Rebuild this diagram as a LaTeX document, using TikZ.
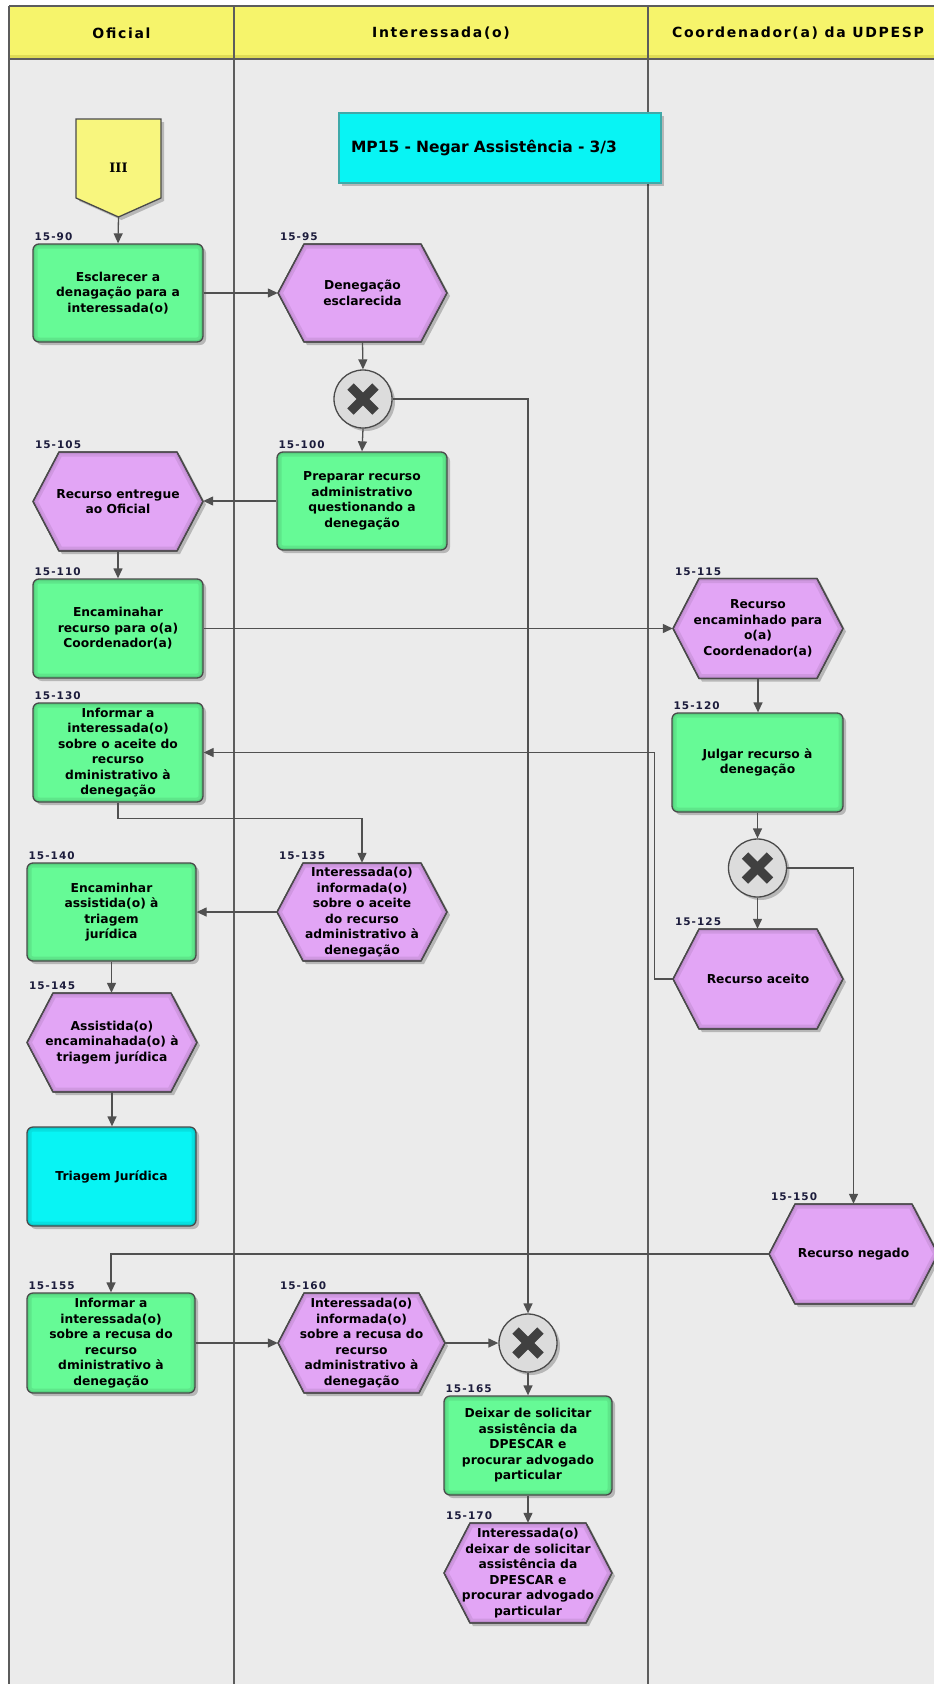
\documentclass[tikz,border=0pt]{standalone}
\usepackage{fontspec}
\setmainfont{DejaVu Sans}
\newfontfamily\labfont{DejaVu Sans}[LetterSpace=10]
\newfontfamily\headfont{DejaVu Sans}[LetterSpace=12]
\newfontfamily\romnum{DejaVu Serif}
\usetikzlibrary{arrows.meta,shadows}

\definecolor{laneGrey}{HTML}{EBEBEB}
\definecolor{headYellow}{HTML}{F6F46B}
\definecolor{headEdge}{HTML}{DEDB55}
\definecolor{actGreen}{HTML}{66FA96}
\definecolor{evViolet}{HTML}{E2A5F5}
\definecolor{refCyan}{HTML}{08F4F4}
\definecolor{offYellow}{HTML}{F8F67E}
\definecolor{edgeGrey}{HTML}{4A4A4A}
\definecolor{wireGrey}{HTML}{505050}
\definecolor{gwFill}{HTML}{DCDCDC}
\definecolor{gwMark}{HTML}{404040}
\definecolor{idInk}{HTML}{1C1C3C}
\definecolor{tealEdge}{HTML}{3FA9A9}

\tikzset{
  shapeshadow/.style={drop shadow={shadow xshift=3pt, shadow yshift=-3pt, fill=black, opacity=0.22}},
  laneLine/.style={draw=edgeGrey!90, line width=1.2pt},
  lanehead/.style={font=\headfont\bfseries\fontsize{14}{16}\selectfont, text=black},
  bodytext/.style={align=center, font=\bfseries\fontsize{12.3}{15.5}\selectfont, text=black, inner sep=1pt},
  actbox/.style={bodytext, rectangle, rounded corners=6pt, fill=actGreen, draw=edgeGrey,
    line width=1.3pt, shapeshadow,
    path picture={
      \draw[black, opacity=0.08, line width=9pt, rounded corners=6pt]
        (path picture bounding box.south west) rectangle (path picture bounding box.north east);
      \draw[black, opacity=0.08, line width=4pt, rounded corners=6pt]
        (path picture bounding box.south west) rectangle (path picture bounding box.north east);}},
  refbox/.style={actbox, fill=refCyan},
  evshape/.style={fill=evViolet, draw=edgeGrey, line width=1.3pt, line join=miter, shapeshadow},
  evrim/.style={draw=black, opacity=0.08, line width=#1},
  evtext/.style={bodytext, rectangle},
  idlab/.style={font=\labfont\bfseries\fontsize{10.5}{12}\selectfont, text=idInk, inner sep=0pt, anchor=base west, xshift=2pt, yshift=3pt},
  gateway/.style={circle, minimum size=58pt, inner sep=0pt, fill=gwFill, draw=edgeGrey, line width=1.3pt, shapeshadow,
    path picture={
      \draw[gwMark, line width=9pt]
        ([xshift=-12.5pt,yshift=-12.5pt]path picture bounding box.center) --
        ([xshift=12.5pt,yshift=12.5pt]path picture bounding box.center);
      \draw[gwMark, line width=9pt]
        ([xshift=-12.5pt,yshift=12.5pt]path picture bounding box.center) --
        ([xshift=12.5pt,yshift=-12.5pt]path picture bounding box.center);}},
  flow/.style={draw=wireGrey, line width=1.3pt, -{Triangle[length=10pt,width=9pt]}},
}

% hexagonal event: name, centre x, centre y, width, height, text
\def\hexin{26}
\newcommand\evnode[6]{%
  \path[evshape] ({#2-#4/2},#3) -- ({#2-#4/2+\hexin},{#3-#5/2}) -- ({#2+#4/2-\hexin},{#3-#5/2})
    -- ({#2+#4/2},#3) -- ({#2+#4/2-\hexin},{#3+#5/2}) -- ({#2-#4/2+\hexin},{#3+#5/2}) -- cycle;
  \begin{scope}
    \clip ({#2-#4/2},#3) -- ({#2-#4/2+\hexin},{#3-#5/2}) -- ({#2+#4/2-\hexin},{#3-#5/2})
      -- ({#2+#4/2},#3) -- ({#2+#4/2-\hexin},{#3+#5/2}) -- ({#2-#4/2+\hexin},{#3+#5/2}) -- cycle;
    \draw[evrim=9pt] ({#2-#4/2},#3) -- ({#2-#4/2+\hexin},{#3-#5/2}) -- ({#2+#4/2-\hexin},{#3-#5/2})
      -- ({#2+#4/2},#3) -- ({#2+#4/2-\hexin},{#3+#5/2}) -- ({#2-#4/2+\hexin},{#3+#5/2}) -- cycle;
    \draw[evrim=4pt] ({#2-#4/2},#3) -- ({#2-#4/2+\hexin},{#3-#5/2}) -- ({#2+#4/2-\hexin},{#3-#5/2})
      -- ({#2+#4/2},#3) -- ({#2+#4/2-\hexin},{#3+#5/2}) -- ({#2-#4/2+\hexin},{#3+#5/2}) -- cycle;
  \end{scope}
  \draw[draw=edgeGrey, line width=1.3pt] ({#2-#4/2},#3) -- ({#2-#4/2+\hexin},{#3-#5/2}) -- ({#2+#4/2-\hexin},{#3-#5/2})
    -- ({#2+#4/2},#3) -- ({#2+#4/2-\hexin},{#3+#5/2}) -- ({#2-#4/2+\hexin},{#3+#5/2}) -- cycle;
  \node[evtext, minimum width=#4pt, minimum height=#5pt] (#1) at (#2,#3) {#6};}

% rounded activity box: name, centre x, centre y, width, height, text
\newcommand\actnode[6]{%
  \node[actbox, minimum width=#4pt, minimum height=#5pt] (#1) at (#2,#3) {#6};}

\begin{document}
\begin{tikzpicture}[x=1pt,y=-1pt]
\useasboundingbox (0,0) rectangle (934,1684);
\clip (0,0) rectangle (934,1684);

% swimlanes
\fill[white] (0,0) rectangle (934,1684);
\fill[laneGrey] (9,59) rectangle (934,1684);
\fill[headYellow] (9,6) rectangle (934,59);
\fill[headEdge] (9,55) rectangle (934,59);
\draw[laneLine] (9,6) -- (934,6);
\draw[laneLine] (9,59) -- (934,59);
\draw[laneLine] (9,6) -- (9,1684);
\draw[laneLine] (234,6) -- (234,1684);
\draw[laneLine] (648,6) -- (648,1684);
\node[lanehead] (hOficial) at (121.5,33) {Oficial};
\node[lanehead] (hInteressada) at (441,33) {Interessada(o)};
\node[lanehead] (hCoord) at (798,33) {Coordenador(a) da UDPESP};

% process title
\node[rectangle, fill=refCyan, draw=tealEdge, line width=1.3pt, shapeshadow,
      minimum height=70pt, text width=298pt, inner xsep=12pt, align=left,
      font=\bfseries\fontsize{15.5}{18}\selectfont, text=black]
      (title) at (500,148) {MP15 - Negar Assistência - 3/3};

% off-page connector III
\path[fill=offYellow, draw=edgeGrey, line width=1.3pt, shapeshadow]
  (76,119) -- (161,119) -- (161,198) -- (118.5,217) -- (76,198) -- cycle;
\node[rectangle, minimum width=85pt, minimum height=98pt, inner sep=0pt,
      font=\romnum\bfseries\fontsize{13}{15}\selectfont] (iii) at (118.5,168) {III};

% activities and events
\actnode{a90}{118}{293}{170}{98}{Esclarecer a\\denagação para a\\interessada(o)}
\evnode{e95}{362.5}{293}{169}{98}{Denegação\\esclarecida}
\node[gateway] (g1) at (363,399) {};
\actnode{a100}{362}{501}{170}{98}{Preparar recurso\\administrativo\\questionando a\\denegação}
\evnode{e105}{118}{501.5}{170}{99}{Recurso entregue\\ao Oficial}
\actnode{a110}{118}{628.5}{170}{99}{Encaminahar\\recurso para o(a)\\Coordenador(a)}
\evnode{e115}{758}{628.5}{170}{100}{Recurso\\encaminhado para\\o(a)\\Coordenador(a)}
\actnode{a120}{757.5}{762.5}{171}{99}{Julgar recurso à\\denegação}
\node[gateway] (g2) at (757.5,868) {};
\evnode{e125}{758}{979}{170}{100}{Recurso aceito}
\actnode{a130}{118}{752.5}{170}{99}{Informar a\\interessada(o)\\sobre o aceite do\\recurso\\dministrativo à\\denegação}
\evnode{e135}{362}{912}{170}{98}{Interessada(o)\\informada(o)\\sobre o aceite\\do recurso\\administrativo à\\denegação}
\actnode{a140}{111.5}{912}{169}{98}{Encaminhar\\assistida(o) à\\triagem\\jurídica}
\evnode{e145}{112}{1042.5}{170}{99}{Assistida(o)\\encaminahada(o) à\\triagem jurídica}
\node[refbox, minimum width=169pt, minimum height=99pt] (t1) at (111.5,1176.5) {Triagem Jurídica};
\evnode{e150}{853.5}{1254}{169}{100}{Recurso negado}
\actnode{a155}{111}{1343}{168}{100}{Informar a\\interessada(o)\\sobre a recusa do\\recurso\\dministrativo à\\denegação}
\evnode{e160}{361.5}{1343}{167}{100}{Interessada(o)\\informada(o)\\sobre a recusa do\\recurso\\administrativo à\\denegação}
\node[gateway] (g3) at (528,1343) {};
\actnode{a165}{528}{1445.5}{168}{99}{Deixar de solicitar\\assistência da\\DPESCAR e\\procurar advogado\\particular}
\evnode{e170}{528}{1573}{168}{100}{Interessada(o)\\deixar de solicitar\\assistência da\\DPESCAR e\\procurar advogado\\particular}

% identifiers
\node[idlab] (n90) at (a90.north west) {15-90};
\node[idlab] (n95) at (e95.north west) {15-95};
\node[idlab] (n100) at (a100.north west) {15-100};
\node[idlab] (n105) at (e105.north west) {15-105};
\node[idlab] (n110) at (a110.north west) {15-110};
\node[idlab] (n115) at (e115.north west) {15-115};
\node[idlab] (n120) at (a120.north west) {15-120};
\node[idlab] (n125) at (e125.north west) {15-125};
\node[idlab] (n130) at (a130.north west) {15-130};
\node[idlab] (n135) at (e135.north west) {15-135};
\node[idlab] (n140) at (a140.north west) {15-140};
\node[idlab] (n145) at (e145.north west) {15-145};
\node[idlab] (n150) at (e150.north west) {15-150};
\node[idlab] (n155) at (a155.north west) {15-155};
\node[idlab] (n160) at (e160.north west) {15-160};
\node[idlab] (n165) at (a165.north west) {15-165};
\node[idlab] (n170) at (e170.north west) {15-170};

% flow
\draw[flow] (iii.south) -- (a90.north);
\draw[flow] (a90.east) -- (e95.west);
\draw[flow] (e95.south) -- (g1.north);
\draw[flow] (g1.south) -- (a100.north);
\draw[flow] (g1.east) -| (g3.north);
\draw[flow] (a100.west) -- (a100.west -| e105.east);
\draw[flow] (e105.south) -- (a110.north);
\draw[flow] (a110.east) -- (a110.east -| e115.west);
\draw[flow] (e115.south) -- (e115.south |- a120.north);
\draw[flow] (a120.south) -- (a120.south |- g2.north);
\draw[flow] (g2.south) -- (g2.south |- e125.north);
\draw[flow] (g2.east) -| (e150.north);
\draw[flow] (e125.west) -- ++(-18,0) |- (a130.east);
\draw[flow] (a130.south) -- ++(0,16) -| (e135.north);
\draw[flow] (e135.west) -- (e135.west -| a140.east);
\draw[flow] (a140.south) -- (a140.south |- e145.north);
\draw[flow] (e145.south) -- (e145.south |- t1.north);
\draw[flow] (e150.west) -| (a155.north);
\draw[flow] (a155.east) -- (e160.west);
\draw[flow] (e160.east) -- (g3.west);
\draw[flow] (g3.south) -- (a165.north);
\draw[flow] (a165.south) -- (e170.north);
\end{tikzpicture}
\end{document}
